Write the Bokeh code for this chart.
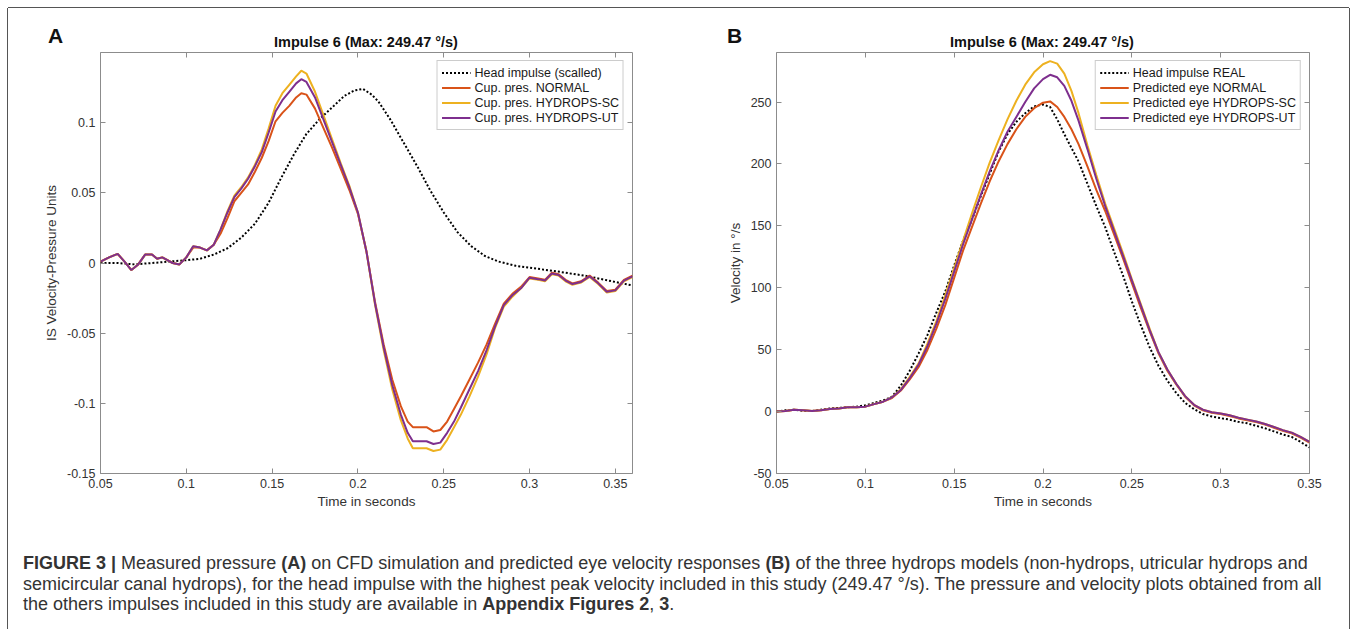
from bokeh.plotting import figure
from bokeh.models import Range1d, LinearAxis, FixedTicker, Legend, LegendItem, Div
from bokeh.layouts import column, row
from bokeh.embed import file_html
from bokeh.resources import INLINE

# ---------------- data: panel A (cupula pressure) ----------------
tA = [0.050, 0.055, 0.060, 0.064, 0.068, 0.072, 0.076, 0.080, 0.083, 0.086,
      0.089, 0.092, 0.096, 0.100, 0.104, 0.108, 0.112, 0.116, 0.120, 0.124,
      0.128, 0.132, 0.136, 0.140, 0.144, 0.148, 0.152, 0.156, 0.160, 0.164,
      0.167, 0.170, 0.175, 0.180, 0.185, 0.190, 0.195, 0.200, 0.205, 0.210,
      0.215, 0.220, 0.225, 0.229, 0.232, 0.236, 0.240, 0.244, 0.248, 0.252,
      0.256, 0.260, 0.265, 0.270, 0.275, 0.280, 0.285, 0.290, 0.295, 0.300,
      0.305, 0.309, 0.313, 0.317, 0.321, 0.325, 0.330, 0.335, 0.340, 0.345,
      0.350, 0.355, 0.360]
A_normal = [0.001, 0.004, 0.0065, 0.001, -0.005, -0.001, 0.006, 0.006, 0.003, 0.004,
            0.002, 0.000, -0.001, 0.004, 0.011, 0.011, 0.009, 0.013, 0.021, 0.032,
            0.044, 0.050, 0.056, 0.065, 0.075, 0.087, 0.101, 0.107, 0.112, 0.118,
            0.121, 0.120, 0.110, 0.096, 0.082, 0.067, 0.052, 0.035, 0.008, -0.028,
            -0.058, -0.083, -0.102, -0.113, -0.117, -0.117, -0.117, -0.120, -0.119, -0.113,
            -0.104, -0.095, -0.083, -0.071, -0.058, -0.043, -0.029, -0.022, -0.017, -0.010,
            -0.011, -0.012, -0.007, -0.008, -0.012, -0.0145, -0.013, -0.009, -0.014, -0.020,
            -0.019, -0.012, -0.009]
A_sc = [0.001, 0.004, 0.0065, 0.001, -0.005, -0.001, 0.006, 0.006, 0.003, 0.004,
        0.002, 0.000, -0.001, 0.004, 0.012, 0.011, 0.009, 0.013, 0.024, 0.037,
        0.048, 0.054, 0.061, 0.070, 0.081, 0.096, 0.112, 0.121, 0.127, 0.133,
        0.137, 0.135, 0.122, 0.105, 0.088, 0.071, 0.055, 0.036, 0.008, -0.030,
        -0.062, -0.090, -0.112, -0.125, -0.132, -0.132, -0.132, -0.134, -0.133, -0.126,
        -0.117, -0.108, -0.095, -0.081, -0.065, -0.046, -0.031, -0.024, -0.018, -0.011,
        -0.012, -0.013, -0.008, -0.009, -0.013, -0.0155, -0.014, -0.010, -0.015, -0.021,
        -0.020, -0.013, -0.010]
A_ut = [0.001, 0.004, 0.0065, 0.001, -0.005, -0.001, 0.006, 0.006, 0.003, 0.004,
        0.002, 0.000, -0.001, 0.004, 0.012, 0.011, 0.009, 0.013, 0.024, 0.036,
        0.047, 0.053, 0.060, 0.069, 0.079, 0.093, 0.108, 0.116, 0.122, 0.128,
        0.131, 0.129, 0.118, 0.102, 0.086, 0.070, 0.054, 0.036, 0.008, -0.029,
        -0.060, -0.087, -0.108, -0.121, -0.127, -0.127, -0.127, -0.129, -0.128, -0.121,
        -0.113, -0.103, -0.090, -0.077, -0.062, -0.045, -0.030, -0.023, -0.018, -0.0105,
        -0.0115, -0.0125, -0.0075, -0.0085, -0.0125, -0.015, -0.0135, -0.0095, -0.0145, -0.0205,
        -0.0195, -0.0125, -0.0095]
tA_head = [0.050, 0.060, 0.070, 0.080, 0.090, 0.100, 0.108, 0.116, 0.124, 0.132,
           0.140, 0.148, 0.155, 0.163, 0.170, 0.178, 0.186, 0.192, 0.198, 0.203,
           0.208, 0.212, 0.219, 0.227, 0.235, 0.242, 0.250, 0.258, 0.266, 0.274,
           0.282, 0.292, 0.304, 0.316, 0.332, 0.344, 0.360]
A_head = [0.000, 0.000, -0.001, 0.000, 0.001, 0.002, 0.003, 0.006, 0.0105, 0.018,
          0.028, 0.043, 0.060, 0.078, 0.092, 0.103, 0.112, 0.119, 0.123, 0.124,
          0.120, 0.115, 0.102, 0.085, 0.068, 0.052, 0.036, 0.022, 0.012, 0.005,
          0.001, -0.002, -0.004, -0.006, -0.009, -0.012, -0.016]

A_xticks = [0.05, 0.1, 0.15, 0.2, 0.25, 0.3, 0.35]
A_xlabels = ["0.05", "0.1", "0.15", "0.2", "0.25", "0.3", "0.35"]
A_yticks = [-0.15, -0.1, -0.05, 0.0, 0.05, 0.1]
A_ylabels = ["-0.15", "-0.1", "-0.05", "0", "0.05", "0.1"]
A_legend = ["Head impulse (scalled)", "Cup. pres. NORMAL", "Cup. pres. HYDROPS-SC", "Cup. pres. HYDROPS-UT"]

# ---------------- data: panel B (eye velocity) ----------------
tB = [0.050, 0.055, 0.060, 0.065, 0.070, 0.075, 0.080, 0.085, 0.090, 0.095,
      0.100, 0.105, 0.110, 0.115, 0.120, 0.125, 0.130, 0.135, 0.140, 0.145,
      0.150, 0.155, 0.160, 0.165, 0.170, 0.175, 0.180, 0.185, 0.190, 0.195,
      0.200, 0.204, 0.208, 0.212, 0.216, 0.220, 0.225, 0.230, 0.235, 0.240,
      0.245, 0.250, 0.255, 0.260, 0.265, 0.270, 0.275, 0.280, 0.285, 0.290,
      0.295, 0.300, 0.305, 0.310, 0.315, 0.320, 0.325, 0.330, 0.335, 0.340,
      0.345, 0.350]
B_head = [0, 1, 1.5, 0.5, 0.5, 1.5, 2.5, 3, 3.5, 4,
          5, 7, 9, 12, 21, 33, 47, 62, 80, 97,
          118, 138, 155, 174, 192, 210, 224, 234, 241, 246.5,
          248, 246, 236, 224, 213, 202, 184, 166, 149, 129,
          110, 89, 70, 52, 37, 25, 15, 7, 2, -2,
          -4, -5.3, -6.5, -8.3, -9.5, -11.5, -13.5, -16, -18.5, -20.5,
          -24.5, -29]
B_normal = [0, 0.5, 1.5, 1, 0.5, 1, 2, 2.5, 3.5, 3.5,
            4, 6, 8, 11, 17, 26, 36, 50, 67, 86,
            108, 130, 149, 168, 186, 202, 216, 228, 238, 245,
            249.5, 250.5, 246, 238, 228, 216, 198, 179, 162, 143,
            124, 104, 84, 65, 47, 33, 22, 12, 5, 1,
            -1, -2, -3.5, -5.5, -7, -8.5, -10.5, -13, -15.5, -17.5,
            -21, -25]
B_sc = [0, 0.5, 1.5, 1, 0.5, 1, 2, 2.5, 3.5, 3.5,
        4, 6, 8, 11.5, 18, 28, 39, 55, 73, 94,
        116, 138, 160, 181, 201, 219, 236, 251, 264, 274,
        280.5, 283, 281, 273, 259, 241, 215, 191, 168, 148,
        128, 107, 87, 67, 48, 34, 22.5, 12.5, 5.5, 1.5,
        -0.5, -1.5, -3, -5, -6.5, -8, -10, -12.5, -15, -17,
        -20.5, -24.5]
B_ut = [0, 0.5, 1.5, 1, 0.5, 1, 2, 2.5, 3.5, 3.5,
        4, 6, 8, 11.5, 17.5, 27, 38, 53, 71, 91,
        113, 135, 155, 175, 194, 211, 226, 238, 250, 261,
        268.5, 272, 270, 263, 251, 235, 212, 188, 166, 146,
        126, 106, 86, 66, 48, 34, 22.5, 12.5, 5.5, 1.5,
        -0.5, -1.5, -3, -5, -6.5, -8, -10, -12.5, -15, -17,
        -20.5, -24.5]

B_xticks = [0.05, 0.1, 0.15, 0.2, 0.25, 0.3, 0.35]
B_xlabels = ["0.05", "0.1", "0.15", "0.2", "0.25", "0.3", "0.35"]
B_yticks = [-50, 0, 50, 100, 150, 200, 250]
B_ylabels = ["-50", "0", "50", "100", "150", "200", "250"]
B_legend = ["Head impulse REAL", "Predicted eye NORMAL", "Predicted eye HYDROPS-SC", "Predicted eye HYDROPS-UT"]

TITLE = "Impulse 6 (Max: 249.47 °/s)"
LETTERS = ["A", "B"]

# ---------------- styling ----------------
FONT = "Liberation Sans"
ORANGE = "#D95319"
YELLOW = "#EDB120"
PURPLE = "#7E2F8E"
AXIS_GRAY = "#8c8c8c"
TEXT = "#333333"
FRAME_H = 421


def style_axis(ax, ticks, labels, show_labels=True):
    ax.ticker = FixedTicker(ticks=ticks)
    ax.major_label_overrides = {t: l for t, l in zip(ticks, labels)}
    ax.axis_line_color = None
    ax.major_tick_line_color = AXIS_GRAY
    ax.major_tick_in = 5
    ax.major_tick_out = 0
    ax.minor_tick_line_color = None
    ax.major_label_text_font = FONT
    if show_labels:
        ax.major_label_text_font_size = "12.5px"
        ax.major_label_text_color = TEXT
        ax.major_label_standoff = 5
    else:
        ax.major_label_text_font_size = "0px"
        ax.major_label_text_color = None
        ax.major_label_standoff = 0
    ax.axis_label_text_font = FONT
    ax.axis_label_text_font_style = "normal"
    ax.axis_label_text_font_size = "13.5px"
    ax.axis_label_text_color = TEXT


def make_panel(xr, yr, xticks, xlabels, yticks, ylabels, ylabel, frame_w, mb_left, mb_right):
    p = figure(x_range=Range1d(*xr), y_range=Range1d(*yr),
               frame_width=frame_w, frame_height=FRAME_H,
               min_border_left=mb_left, min_border_right=mb_right,
               min_border_top=2, min_border_bottom=46,
               output_backend="svg", toolbar_location=None,
               background_fill_color="white", border_fill_color="white")
    p.xgrid.visible = False
    p.ygrid.visible = False
    p.outline_line_color = AXIS_GRAY
    p.outline_line_width = 1
    p.outline_line_alpha = 1
    p.xaxis.axis_label = "Time in seconds"
    p.yaxis.axis_label = ylabel
    style_axis(p.xaxis[0], xticks, xlabels)
    style_axis(p.yaxis[0], yticks, ylabels)
    p.xaxis[0].axis_label_standoff = 3
    p.yaxis[0].axis_label_standoff = 5
    top = LinearAxis()
    style_axis(top, xticks, xlabels, show_labels=False)
    p.add_layout(top, "above")
    right = LinearAxis()
    style_axis(right, yticks, ylabels, show_labels=False)
    p.add_layout(right, "right")
    return p


def add_lines(p, t_head, head, t, normal, sc, ut, names):
    r0 = p.line(t_head, head, line_color="black", line_width=2, line_dash="2 2")
    r1 = p.line(t, normal, line_color=ORANGE, line_width=2)
    r2 = p.line(t, sc, line_color=YELLOW, line_width=2)
    r3 = p.line(t, ut, line_color=PURPLE, line_width=2)
    items = [LegendItem(label=n, renderers=[r]) for n, r in zip(names, [r0, r1, r2, r3])]
    leg = Legend(items=items, location="top_right", margin=8, padding=4, spacing=0,
                 label_height=15, glyph_height=15, glyph_width=29, label_standoff=4,
                 border_line_color="#999999", border_line_width=1,
                 background_fill_color="white", background_fill_alpha=1,
                 label_text_font=FONT, label_text_font_size="12.5px", label_text_color="#1a1a1a")
    p.add_layout(leg)


pA = make_panel((0.05, 0.36), (-0.15, 0.15), A_xticks, A_xlabels, A_yticks, A_ylabels,
                "IS Velocity-Pressure Units", 532, 92, 56)
add_lines(pA, tA_head, A_head, tA, A_normal, A_sc, A_ut, A_legend)

pB = make_panel((0.05, 0.35), (-50, 290), B_xticks, B_xlabels, B_yticks, B_ylabels,
                "Velocity in °/s", 533, 88, 40)
add_lines(pB, tB, B_head, tB, B_normal, B_sc, B_ut, B_legend)


# header with panel letters and panel titles (above the plot frames)
def span(text, left, top, size, width=None, center=False):
    w = f"width:{width}px;text-align:center;" if center else ""
    return (f'<span style="position:absolute;left:{left}px;top:{top}px;{w}'
            f'font-family:\'Liberation Sans\',Arial,sans-serif;font-weight:bold;'
            f'font-size:{size}px;line-height:1;color:#111;white-space:nowrap;">{text}</span>')


header_html = ('<div style="position:relative;width:1341px;height:42px;">'
               + span(LETTERS[0], 40, 17, 21)
               + span(TITLE, 358 - 150, 27, 14.5, 300, True)
               + span(LETTERS[1], 719, 17, 21)
               + span(TITLE, 1034 - 150, 27, 14.5, 300, True)
               + '</div>')
header = Div(text=header_html, width=1341, height=42, margin=0)

caption_html = (
    '<div style="font-family:\'Liberation Sans\',Arial,sans-serif;font-size:18px;line-height:20.5px;'
    'color:#333;padding:34px 0 0 15px;white-space:nowrap;">'
    '<b>FIGURE 3 |</b> Measured pressure <b>(A)</b> on CFD simulation and predicted eye velocity '
    'responses <b>(B)</b> of the three hydrops models (non-hydrops, utricular hydrops and<br>'
    'semicircular canal hydrops), for the head impulse with the highest peak velocity included in '
    'this study (249.47 °/s). The pressure and velocity plots obtained from all<br>'
    'the others impulses included in this study are available in <b>Appendix Figures 2</b>, <b>3</b>.'
    '</div>'
)
cap = Div(text=caption_html, width=1341, height=110, margin=0)

layout = column(header, row(pA, pB), cap,
                styles={"position": "relative", "left": "8px", "top": "8px",
                        "box-shadow": "-1px 0 0 0 #555555, 1px 0 0 0 #555555, 0 -1px 0 0 #555555"})

with open("out.html", "w") as f:
    f.write(file_html(layout, INLINE))
